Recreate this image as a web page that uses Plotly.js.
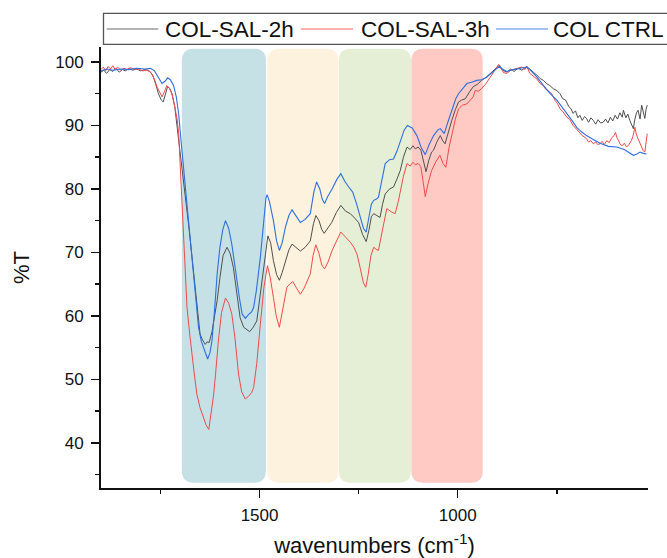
<!DOCTYPE html>
<html>
<head>
<meta charset="utf-8">
<script src="https://cdn.plot.ly/plotly-3.0.1.min.js"></script>
<style>html,body{margin:0;padding:0;background:#fff;}#chart{width:667px;height:558px;}</style>
</head>
<body>
<div id="chart"></div>
<script>
// ---------------- data ----------------
const seriesNames = ["COL-SAL-2h", "COL-SAL-3h", "COL CTRL"];

const ctrlWn = [1900,1885,1870,1850,1830,1810,1790,1775,1765,1755,1746,1738,1732,1725,1717,1710,1704,1698,1692,1685,1679,1672,1666,1660,1654,1647,1641,1636,1631,1625,1620,1614,1607,1600,1593,1586,1578,1570,1563,1557,1550,1544,1536,1528,1520,1515,1508,1498,1490,1484,1481,1475,1465,1457,1450,1443,1435,1426,1418,1410,1397,1385,1372,1363,1356,1348,1342,1336,1328,1317,1305,1295,1285,1275,1265,1255,1245,1238,1231,1225,1218,1212,1205,1200,1192,1183,1172,1162,1153,1145,1135,1127,1115,1103,1092,1082,1072,1061,1050,1044,1038,1034,1025,1015,1005,998,988,977,965,952,940,927,912,900,895,885,876,860,843,826,815,800,784,768,750,737,725,712,700,688,675,658,641,620,599,580,566,557,548,540,532,524];
const ctrlT = [98.6,98.9,98.7,98.9,98.8,99.0,98.9,99.0,98.6,97.5,96.6,97.0,97.5,97.2,96.3,94.5,91.8,87.5,83.4,79.0,75.0,70.5,66.6,62.3,58.2,56.0,55.0,54.0,53.2,54.2,56.1,60.5,66.6,70.8,73.5,75.0,73.8,71.3,68.0,65.5,62.5,60.3,59.6,60.2,60.6,61.3,64.0,69.2,75.0,78.5,79.1,78.0,75.0,71.8,70.3,71.5,73.9,75.8,76.7,76.0,74.7,75.2,76.1,79.5,81.1,80.0,78.4,77.7,78.8,80.0,81.5,82.4,81.2,80.3,79.5,77.6,75.5,73.8,73.2,75.0,77.6,78.2,78.4,78.7,81.5,84.0,84.6,84.7,86.0,87.6,89.3,90.0,89.6,88.4,86.5,85.4,87.0,88.4,89.3,89.5,89.0,88.7,90.5,92.4,94.2,95.0,95.8,96.6,96.8,97.1,97.2,97.6,98.4,99.1,99.3,98.8,98.5,98.8,98.95,99.2,98.6,97.6,96.3,95.1,94.0,93.0,91.9,90.8,89.7,89.0,88.4,87.8,87.2,86.7,86.6,86.2,85.6,85.3,85.5,85.8,85.6,85.5];

const sal2Wn = [1900,1893,1886,1878,1870,1862,1854,1846,1838,1830,1820,1810,1800,1790,1780,1770,1762,1755,1748,1743,1738,1732,1726,1721,1714,1708,1702,1696,1690,1684,1678,1672,1666,1660,1654,1650,1644,1637,1632,1627,1620,1614,1607,1600,1592,1582,1574,1566,1558,1549,1540,1533,1525,1516,1507,1500,1494,1487,1479,1472,1465,1457,1450,1443,1435,1426,1418,1408,1397,1385,1372,1364,1358,1350,1343,1337,1328,1318,1306,1295,1283,1271,1260,1250,1240,1231,1224,1218,1212,1204,1196,1190,1183,1172,1162,1153,1145,1137,1128,1120,1113,1107,1100,1093,1087,1080,1073,1066,1061,1052,1044,1038,1032,1024,1015,1006,998,990,981,970,961,950,940,930,918,905,895,887,876,866,858,848,838,826,818,810,800,792,784,776,768,759,750,742,735,728,720,714,709,703,697,692,686,680,675,670,664,658,652,646,640,633,627,621,615,609,603,597,591,585,582,576,571,566,562,557,553,549,545,540,536,532,528,525,522];
const sal2T = [98.4,98.7,98.2,98.8,98.5,99.0,98.4,98.8,98.6,99.0,98.7,98.9,98.6,98.8,98.7,98.0,96.5,95.0,94.0,93.7,94.8,96.1,95.8,95.0,93.0,90.0,86.5,83.5,80.5,77.0,73.8,70.2,66.5,62.8,59.5,57.1,56.2,55.5,55.9,55.8,57.5,59.8,62.4,66.0,69.5,70.8,69.8,67.6,64.0,59.7,58.2,57.9,57.5,58.2,59.2,62.5,65.5,69.5,72.6,71.5,68.7,66.5,65.6,66.8,68.7,70.4,71.3,70.8,70.2,70.8,71.8,74.5,75.8,75.0,73.6,73.0,73.8,74.7,76.3,77.4,76.5,76.1,75.4,74.7,72.8,71.7,73.5,75.6,76.1,75.8,75.5,77.5,79.2,80.0,80.3,81.6,82.9,85.0,86.6,86.2,86.8,86.3,86.6,86.1,84.5,82.7,84.5,85.8,86.1,87.5,88.4,87.6,87.1,89.0,90.8,92.5,93.7,94.0,94.2,95.3,96.1,96.5,97.1,97.5,98.2,98.9,99.5,98.7,98.4,98.9,98.5,99.0,98.7,99.3,98.9,98.4,97.9,97.4,97.1,96.6,96.3,95.8,95.5,95.0,94.2,94.0,93.0,92.6,91.9,92.3,91.2,91.6,90.8,91.4,91.1,90.5,91.2,90.8,90.2,90.9,90.4,90.5,91.0,90.4,91.3,90.7,91.6,91.0,92.0,91.3,92.4,91.2,91.8,90.8,90.2,89.5,91.0,92.0,92.4,91.0,93.2,92.0,91.1,92.5,93.2];

const sal3Wn = [1900,1894,1888,1882,1876,1870,1864,1858,1850,1842,1834,1826,1815,1805,1795,1785,1775,1766,1758,1750,1746,1740,1734,1728,1721,1714,1708,1704,1700,1696,1690,1683,1676,1670,1664,1658,1650,1641,1635,1628,1622,1616,1611,1604,1596,1586,1578,1570,1562,1553,1545,1536,1528,1520,1515,1507,1498,1489,1480,1473,1465,1458,1450,1441,1431,1424,1416,1407,1397,1388,1380,1372,1365,1358,1350,1343,1336,1327,1317,1306,1295,1283,1271,1262,1254,1246,1238,1232,1226,1219,1212,1206,1200,1190,1179,1168,1158,1150,1145,1137,1128,1120,1113,1107,1100,1093,1087,1082,1075,1066,1055,1045,1037,1030,1022,1015,1006,998,988,977,968,961,956,948,940,930,918,907,897,890,884,876,866,856,846,838,830,826,818,810,800,792,784,778,772,763,755,748,742,735,728,725,718,713,709,703,697,692,686,681,675,670,664,658,652,647,641,636,630,624,618,612,606,602,598,594,591,585,580,574,568,562,558,553,549,545,540,536,532,528,525,522];
const sal3T = [98.8,99.2,98.6,99.3,98.9,99.4,98.8,99.2,98.7,99.0,98.8,99.1,98.8,98.9,98.6,98.7,98.4,97.4,96.0,94.8,94.5,95.3,96.3,95.9,95.0,93.0,91.0,88.7,83.5,77.1,69.0,61.3,57.0,53.4,50.5,47.6,45.5,43.9,42.8,42.1,44.5,47.5,50.8,56.0,60.5,62.8,62.0,60.3,56.5,50.8,48.0,46.9,47.3,47.9,48.7,52.5,58.7,64.5,67.9,66.0,62.9,60.0,58.2,61.0,64.5,65.0,65.4,64.4,63.4,64.3,65.5,66.6,69.5,71.2,69.8,68.0,67.4,68.5,70.3,71.8,73.2,72.4,71.6,70.8,69.7,67.5,65.2,64.5,66.5,69.5,70.8,70.5,70.3,73.5,76.9,76.4,76.1,78.0,79.7,82.0,84.0,83.6,84.2,83.8,84.0,83.5,81.0,78.8,80.8,82.9,84.3,85.3,84.0,83.4,86.5,88.7,91.0,92.6,93.2,93.4,94.0,94.5,95.5,95.4,95.8,96.5,97.6,98.6,99.6,98.9,98.3,98.2,98.7,98.9,99.1,99.2,98.8,99.3,98.2,97.8,97.3,96.6,96.3,95.7,95.5,95.0,94.0,93.4,92.6,92.2,91.6,91.3,91.0,90.3,90.0,89.6,89.2,88.7,88.4,88.2,87.9,87.4,87.6,87.1,87.4,87.0,87.1,87.5,87.0,87.6,87.3,88.0,88.4,88.9,88.0,87.6,87.1,86.8,87.2,86.6,87.0,87.6,88.3,89.7,88.5,87.9,87.2,86.6,86.0,85.8,87.0,88.7];

// highlighted spectral regions (wavenumber from, to)
const bandFrom = [1696, 1480, 1300, 1117];
const bandTo   = [1484, 1301, 1118, 937];
const bandColors = ["#c5e1e6", "#fdf2de", "#e5efd6", "#ffc9c4"];

const xTickVals = [1500, 1000];
const xMinorVals = [1750, 1250, 750];

// ---------------- layout constants ----------------
const W = 667, H = 558;
const M = {l: 101, r: 19, t: 47, b: 70};
const plotW = W - M.l - M.r, plotH = H - M.t - M.b;
const xRange = [1900, 520];
const yRange = [32.87, 102.36];
const FONT = '"Liberation Sans", Arial, sans-serif';
const lineColors = ["#4f4f4f", "#f04a4a", "#2f6fde"];
const legendColors = ["#6a6a6a", "#ff6060", "#4a86e8"];

const pxX = plotW / (xRange[0] - xRange[1]);   // px per wavenumber
const pxY = plotH / (yRange[1] - yRange[0]);   // px per %T
const paperX = px => (px - M.l) / plotW;
const paperY = py => (H - M.b - py) / plotH;

function roundedRect(x0, x1, y0, y1, rpx) {
  const rx = rpx / pxX, ry = rpx / pxY;
  return `M${x0},${y0 + ry} L${x0},${y1 - ry} Q${x0},${y1} ${x0 - rx},${y1} ` +
         `L${x1 + rx},${y1} Q${x1},${y1} ${x1},${y1 - ry} ` +
         `L${x1},${y0 + ry} Q${x1},${y0} ${x1 + rx},${y0} ` +
         `L${x0 - rx},${y0} Q${x0},${y0} ${x0},${y0 + ry} Z`;
}

const shapes = [];
bandFrom.forEach((f, i) => {
  shapes.push({type: 'path', xref: 'x', yref: 'y', layer: 'below',
    path: roundedRect(f, bandTo[i], 33.7, 102.1, 12),
    fillcolor: bandColors[i], line: {width: 0}});
});

// legend frame and line samples (drawn manually to match the reference)
shapes.push({type: 'rect', xref: 'paper', yref: 'paper',
  x0: paperX(103.5), x1: paperX(720), y0: paperY(44.3), y1: paperY(13.3),
  line: {color: '#555', width: 1.3}, fillcolor: 'rgba(0,0,0,0)'});
const legLine = [[106.7, 158.3], [301, 353], [496, 548]];
const legText = [164.3, 360, 552];
legLine.forEach((s, i) => {
  shapes.push({type: 'line', xref: 'paper', yref: 'paper',
    x0: paperX(s[0]), x1: paperX(s[1]), y0: paperY(29), y1: paperY(29),
    line: {color: legendColors[i], width: 1.2}});
});
const annotations = seriesNames.map((n, i) => ({
  xref: 'paper', yref: 'paper', x: paperX(legText[i]), y: paperY(29.5),
  xanchor: 'left', yanchor: 'middle', showarrow: false, text: n,
  font: {family: FONT, size: 22.5, color: '#111'}, borderpad: 0
}));

const traces = [
  {x: sal2Wn, y: sal2T, name: seriesNames[0], line: {color: lineColors[0], width: 1}},
  {x: sal3Wn, y: sal3T, name: seriesNames[1], line: {color: lineColors[1], width: 1}},
  {x: ctrlWn, y: ctrlT, name: seriesNames[2], line: {color: lineColors[2], width: 1.1}}
].map(t => Object.assign({type: 'scatter', mode: 'lines', hoverinfo: 'skip'}, t));

const axisCommon = {
  showgrid: false, zeroline: false, showline: true, linecolor: '#111', linewidth: 2,
  ticks: 'outside', ticklen: 8, tickwidth: 1.5, tickcolor: '#111',
  tickfont: {family: FONT, size: 17, color: '#111'}
};

const layout = {
  width: W, height: H, margin: M, showlegend: false,
  paper_bgcolor: '#fff', plot_bgcolor: '#fff',
  font: {family: FONT},
  xaxis: Object.assign({}, axisCommon, {
    range: xRange, autorange: false, tickmode: 'array', tickvals: xTickVals,
    ticklabelstandoff: 3,
    minor: {tickmode: 'array', tickvals: xMinorVals, ticks: 'outside', ticklen: 4, tickwidth: 1.5, tickcolor: '#111'},
    title: {text: 'wavenumbers (cm<sup>-1</sup>)', font: {family: FONT, size: 22, color: '#111'}, standoff: 15}
  }),
  yaxis: Object.assign({}, axisCommon, {
    range: yRange, autorange: false, tick0: 0, dtick: 10,
    ticklabelstandoff: 4,
    minor: {dtick: 5, ticks: 'outside', ticklen: 4, tickwidth: 1.5, tickcolor: '#111'},
    title: {text: '%T', font: {family: FONT, size: 22, color: '#111'}, standoff: 20}
  }),
  shapes: shapes,
  annotations: annotations
};

Plotly.newPlot('chart', traces, layout, {staticPlot: true, displayModeBar: false});
</script>
</body>
</html>
